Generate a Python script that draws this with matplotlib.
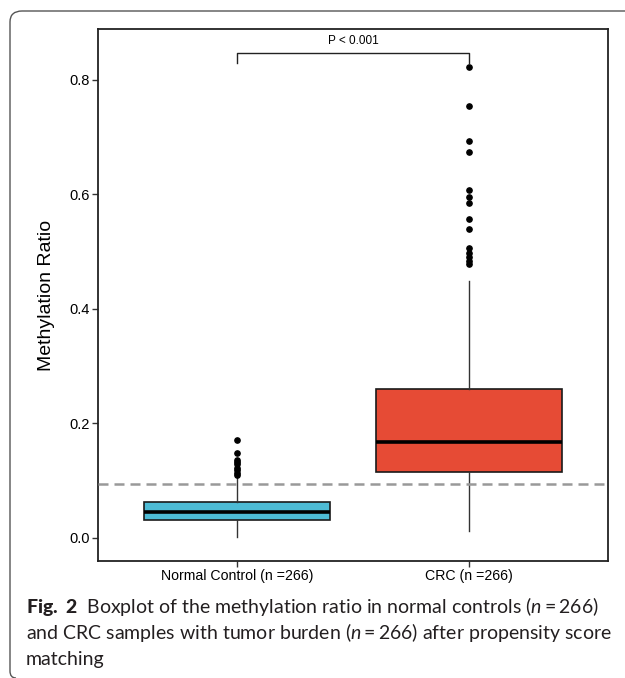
import matplotlib.pyplot as plt
from matplotlib.path import Path
from matplotlib.patches import PathPatch

plt.rcParams['font.family'] = ['Liberation Sans', 'DejaVu Sans']
plt.rcParams['mathtext.fontset'] = 'custom'
plt.rcParams['mathtext.rm'] = 'Lato'
plt.rcParams['mathtext.it'] = 'Lato:italic'
plt.rcParams['mathtext.bf'] = 'Lato:black'

# data
groups = ['Normal Control (n =266)', 'CRC (n =266)']
colors = ['#4DBBD5', '#E64B35']
q1 = [0.031, 0.116]
median = [0.046, 0.168]
q3 = [0.062, 0.261]
whis_low = [0.001, 0.013]
whis_high = [0.105, 0.449]
outliers = [
    [0.171, 0.148, 0.137, 0.133, 0.129, 0.123, 0.119, 0.114, 0.110],
    [0.823, 0.755, 0.693, 0.674, 0.608, 0.596, 0.585, 0.558, 0.540,
     0.506, 0.497, 0.490, 0.484, 0.479],
]
cutoff = 0.094
p_label = 'P < 0.001'
yticks = [0.0, 0.2, 0.4, 0.6, 0.8]

fig = plt.figure(figsize=(6.25, 6.78), dpi=100)
ax = fig.add_axes([98 / 625, 1 - 561 / 678, 510 / 625, 532 / 678])

stats = []
for i in range(len(groups)):
    stats.append({'med': median[i], 'q1': q1[i], 'q3': q3[i],
                  'whislo': whis_low[i], 'whishi': whis_high[i],
                  'fliers': outliers[i], 'label': groups[i]})

bp = ax.bxp(stats, positions=[1, 2], widths=0.8, patch_artist=True,
            showcaps=False,
            boxprops=dict(edgecolor='#1a1a1a', linewidth=1.2),
            medianprops=dict(color='black', linewidth=2.6),
            whiskerprops=dict(color='#333333', linewidth=1.0),
            flierprops=dict(marker='o', markersize=3.8, markerfacecolor='black',
                            markeredgecolor='black'))
for patch, c in zip(bp['boxes'], colors):
    patch.set_facecolor(c)

ax.axhline(cutoff, color='#999999', linewidth=1.8, dashes=(4, 2.4), zorder=3)

# significance bracket
ax.plot([1, 1, 2, 2], [0.830, 0.847, 0.847, 0.830], color='#222222',
        linewidth=1.0, clip_on=False)
ax.text(1.5, 0.858, p_label, ha='center', va='bottom', fontsize=8.5)

ax.set_xlim(0.4, 2.6)
ax.set_ylim(-0.0402, 0.889)
ax.set_yticks(yticks)
ax.set_yticklabels([f'{v:.1f}' for v in yticks], fontsize=10.5)
ax.set_xticks([1, 2])
ax.set_xticklabels(groups, fontsize=10.2)
ax.tick_params(length=4, width=1, color='#333333', pad=2)
ax.set_ylabel('Methylation Ratio', fontsize=14, labelpad=10)
for s in ax.spines.values():
    s.set_linewidth(1.3)
    s.set_color('#222222')

# caption
cap_color = '#231f20'
cap_size = 14.0
fig.text(26 / 625, 1 - 607 / 678,
         r'$\mathbf{Fig.\ 2}$  Boxplot of the methylation ratio in normal controls ($n = 266$)',
         fontsize=cap_size, family='Lato', va='center', color=cap_color)
fig.text(26 / 625, 1 - 633 / 678,
         r'and CRC samples with tumor burden ($n = 266$) after propensity score',
         fontsize=cap_size, family='Lato', va='center', color=cap_color)
fig.text(26 / 625, 1 - 659 / 678, 'matching',
         fontsize=cap_size, family='Lato', va='center', color=cap_color)

# card outline (left and top edges with rounded corners)
W, H = 625.0, 678.0
verts = [(16 / W, 1 - 678 / H), (10 / W, 1 - 678 / H), (10 / W, 1 - 671 / H),
         (10 / W, 1 - 22 / H), (10 / W, 1 - 11 / H), (22 / W, 1 - 11 / H),
         (1.0, 1 - 11 / H)]
codes = [Path.MOVETO, Path.CURVE3, Path.CURVE3, Path.LINETO,
         Path.CURVE3, Path.CURVE3, Path.LINETO]
fig.patches.append(PathPatch(Path(verts, codes), transform=fig.transFigure,
                             fill=False, edgecolor='#555555', linewidth=1.0))

plt.savefig('out.png', dpi=100, facecolor='white')
